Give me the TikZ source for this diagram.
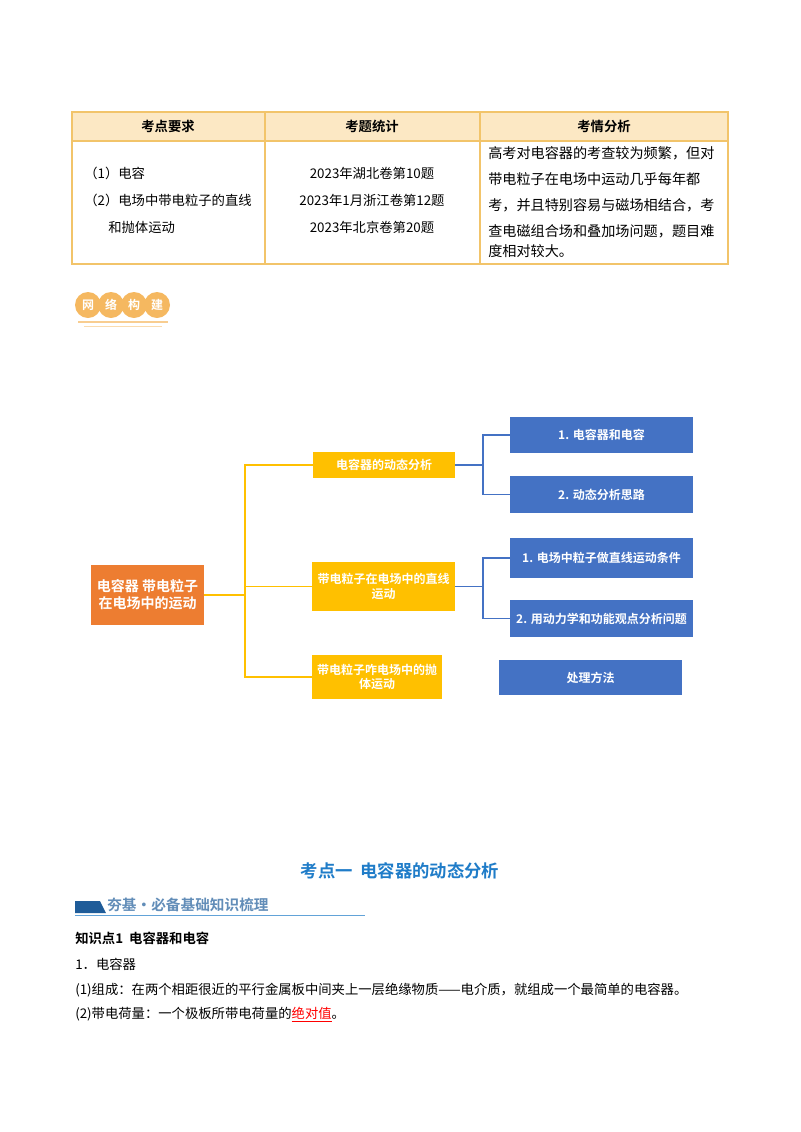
\documentclass[tikz,border=0pt]{standalone}
\usepackage{fontspec}
\setmainfont{Liberation Serif}
\newfontfamily\cjk{Noto Sans CJK SC}
\newfontfamily\cjkb{Noto Sans CJK SC Bold}
\definecolor{tblline}{HTML}{F2C46A}
\definecolor{tblhead}{HTML}{FCE8C4}
\definecolor{orgbox}{HTML}{ED7D31}
\definecolor{ylwbox}{HTML}{FFC000}
\definecolor{bluebox}{HTML}{4472C4}
\definecolor{ttlblue}{HTML}{1F7CC8}
\definecolor{bannerblue}{HTML}{1F5C99}
\definecolor{badge}{HTML}{F5B860}
\tikzset{
 box/.style={draw=none,align=center,text=white,font=\cjkb\fontsize{9}{11}\selectfont,inner sep=1pt},
 conny/.style={draw=ylwbox,line width=1.2pt},
 connb/.style={draw=bluebox,line width=1.2pt},
 body/.style={anchor=west,font=\cjk\fontsize{10}{12}\selectfont,inner sep=0pt},
 cell/.style={font=\cjk\fontsize{10}{12}\selectfont,inner sep=0pt},
 sz/.style 2 args={minimum width=#1*0.75pt,minimum height=#2*0.75pt},
}
\begin{document}
\begin{tikzpicture}[x=0.75pt,y=-0.75pt]
\useasboundingbox (0,0) rectangle (800,1132);
% table
\fill[tblhead] (72,112) rectangle (728,141);
\draw[tblline,line width=1pt] (72,112) rectangle (728,264);
\draw[tblline,line width=1pt] (72,141) -- (728,141);
\draw[tblline,line width=1pt] (265,112) -- (265,264);
\draw[tblline,line width=1pt] (480,112) -- (480,264);
\node[cell,font=\cjkb\fontsize{10}{12}\selectfont] (h1) at (168,126) {考点要求};
\node[cell,font=\cjkb\fontsize{10}{12}\selectfont] (h2) at (372,126) {考题统计};
\node[cell,font=\cjkb\fontsize{10}{12}\selectfont] (h3) at (604,126) {考情分析};
\node[body] (c1a) at (84,173) {（1）电容};
\node[body] (c1b) at (84,200) {（2）电场中带电粒子的直线};
\node[body] (c1c) at (108,227) {和抛体运动};
\node[cell] (c2a) at (372,173) {2023年湖北卷第10题};
\node[cell] (c2b) at (372,200) {2023年1月浙江卷第12题};
\node[cell] (c2c) at (372,227) {2023年北京卷第20题};
\node[body,font=\cjk\fontsize{10.6}{12}\selectfont] (c3a) at (488,153) {高考对电容器的考查较为频繁，但对};
\node[body,font=\cjk\fontsize{10.6}{12}\selectfont] (c3b) at (488,179) {带电粒子在电场中运动几乎每年都};
\node[body,font=\cjk\fontsize{10.6}{12}\selectfont] (c3c) at (488,205) {考，并且特别容易与磁场相结合，考};
\node[body,font=\cjk\fontsize{10.6}{12}\selectfont] (c3d) at (488,231) {查电磁组合场和叠加场问题，题目难};
\node[body,font=\cjk\fontsize{10.6}{12}\selectfont] (c3e) at (488,251) {度相对较大。};
% badge
\foreach \x/\t [count=\i] in {88/网,111/络,134/构,157/建}{
 \fill[badge] (\x,305) circle (13);
 \node[font=\cjkb\fontsize{9}{9}\selectfont,text=white] (b\i) at (\x,305) {\t};
}
\draw[badge!70,line width=0.8pt] (78,322) -- (168,322);
\draw[badge!50,line width=0.6pt] (84,326) -- (162,326);
% mind map
\node[box,fill=orgbox,sz={113}{60},font=\cjkb\fontsize{10.5}{13}\selectfont] (root) at (147.5,595) {电容器\ 带电粒子\\在电场中的运动};
\node[box,fill=ylwbox,sz={142}{26}] (y1) at (384,465) {电容器的动态分析};
\node[box,fill=ylwbox,sz={143}{49}] (y2) at (383.5,586.5) {带电粒子在电场中的直线\\运动};
\node[box,fill=ylwbox,sz={130}{44}] (y3) at (377,677) {带电粒子咋电场中的抛\\体运动};
\node[box,fill=bluebox,sz={183}{36}] (u1) at (601.5,435) {1. 电容器和电容};
\node[box,fill=bluebox,sz={183}{37}] (u2) at (601.5,494.5) {2. 动态分析思路};
\node[box,fill=bluebox,sz={183}{40}] (u3) at (601.5,558) {1. 电场中粒子做直线运动条件};
\node[box,fill=bluebox,sz={183}{37}] (u4) at (601.5,618.5) {2. 用动力学和功能观点分析问题};
\node[box,fill=bluebox,sz={183}{35}] (u5) at (590.5,677.5) {处理方法};
\coordinate (ty) at (245,595);
\draw[conny] (root.east) -- (ty);
\draw[conny] (ty) |- (y1.west);
\draw[conny] (ty) |- (y2.west);
\draw[conny] (ty) |- (y3.west);
\draw[connb] (y1.east) -- (483,465) |- (u1.west);
\draw[connb] (483,465) |- (u2.west);
\draw[connb] (y2.east) -- (483,586.5) |- (u3.west);
\draw[connb] (483,586.5) |- (u4.west);
% heading
\node[font=\cjkb\fontsize{13}{15}\selectfont,text=ttlblue] (title) at (400,871) {考点一\ \ 电容器的动态分析};
\fill[bannerblue] (75,901) -- (100,901) -- (106,913) -- (75,913) -- cycle;
\draw[ttlblue!70,line width=0.7pt] (75,915) -- (365,915);
\node[anchor=west,font=\cjkb\fontsize{11}{13}\selectfont,text=bannerblue!70,inner sep=0pt] (ban) at (107,905) {夯基·必备基础知识梳理};
\node[body,font=\cjkb\fontsize{10}{12}\selectfont] (k1) at (75,938) {知识点1\ \ 电容器和电容};
\node[body] (k2) at (75,964) {1．电容器};
\node[body] (k3) at (75,990) {(1)组成：在两个相距很近的平行金属板中间夹上一层绝缘物质——电介质，就组成一个最简单的电容器。};
\node[body] (k4) at (75,1015) {(2)带电荷量：一个极板所带电荷量的\textcolor{red}{\underline{绝对值}}。};
\end{tikzpicture}
\end{document}
